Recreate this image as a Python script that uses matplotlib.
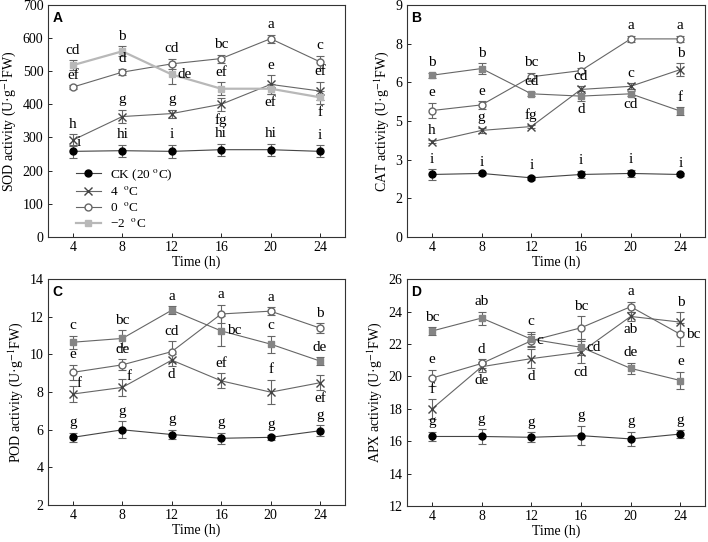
import matplotlib
matplotlib.use('Agg')
import matplotlib.pyplot as plt
from matplotlib.lines import Line2D

plt.rcParams['font.family'] = ['Liberation Serif', 'DejaVu Serif']
plt.rcParams['mathtext.fontset'] = 'stix'

# sampling times (h)
hours = [4, 8, 12, 16, 20, 24]
series_names = ['CK (20 $^{\\rm o}$C)', '4  $^{\\rm o}$C', '0  $^{\\rm o}$C', '\u22122  $^{\\rm o}$C']

# A: SOD
sod_ck = [258, 260, 258, 263, 263, 258]
sod_4 = [292, 363, 372, 400, 460, 440]
sod_0 = [452, 497, 522, 538, 598, 528]
sod_m2 = [518, 560, 490, 447, 447, 421]
sod_ck_err = [20, 18, 20, 18, 18, 18]
sod_4_err = [18, 20, 12, 20, 28, 28]
sod_0_err = [5, 10, 15, 12, 12, 18]
sod_m2_err = [15, 15, 30, 20, 15, 20]
sod_ck_lab = ['i', 'hi', 'i', 'hi', 'hi', 'i']
sod_4_lab = ['h', 'g', 'g', 'fg', 'e', 'ef']
sod_0_lab = ['ef', 'd', 'cd', 'bc', 'a', 'c']
sod_m2_lab = ['cd', 'b', 'de', 'ef', 'ef', 'f']

# B: CAT
cat_ck = [2.42, 2.46, 2.29, 2.42, 2.46, 2.42]
cat_4 = [3.69, 4.13, 4.28, 5.72, 5.84, 6.49]
cat_0 = [4.90, 5.12, 6.21, 6.45, 7.68, 7.68]
cat_m2 = [6.27, 6.53, 5.55, 5.46, 5.55, 4.88]
cat_ck_err = [0.2, 0.05, 0.08, 0.15, 0.15, 0.05]
cat_4_err = [0.05, 0.1, 0.06, 0.12, 0.12, 0.25]
cat_0_err = [0.3, 0.15, 0.15, 0.1, 0.12, 0.12]
cat_m2_err = [0.1, 0.2, 0.08, 0.2, 0.1, 0.15]
cat_ck_lab = ['i', 'i', 'i', 'i', 'i', 'i']
cat_4_lab = ['h', 'g', 'fg', 'cd', 'c', 'b']
cat_0_lab = ['e', 'e', 'bc', 'b', 'a', 'a']
cat_m2_lab = ['b', 'b', 'cd', 'd', 'cd', 'f']
cat_ticks = [0, 1.5, 3, 4.5, 6, 7.5, 9]
cat_ticklabels = ['0', '2', '3', '5', '6', '8', '9']

# C: POD
pod_ck = [5.6, 6.0, 5.75, 5.55, 5.6, 5.95]
pod_4 = [7.9, 8.25, 9.7, 8.6, 8.0, 8.5]
pod_0 = [9.05, 9.45, 10.15, 12.15, 12.3, 11.4]
pod_m2 = [10.65, 10.85, 12.35, 11.25, 10.55, 9.65]
pod_ck_err = [0.25, 0.45, 0.25, 0.3, 0.15, 0.3]
pod_4_err = [0.45, 0.45, 0.3, 0.4, 0.65, 0.4]
pod_0_err = [0.4, 0.3, 0.55, 0.5, 0.2, 0.25]
pod_m2_err = [0.35, 0.45, 0.2, 0.8, 0.45, 0.2]
pod_ck_lab = ['g', 'g', 'g', 'g', 'g', 'g']
pod_4_lab = ['f', 'f', 'd', 'ef', 'f', 'ef']
pod_0_lab = ['e', 'de', 'cd', 'a', 'a', 'b']
pod_m2_lab = ['c', 'bc', 'a', 'bc', 'c', 'de']

# D: APX
apx_ck = [16.3, 16.3, 16.25, 16.35, 16.15, 16.45]
apx_4 = [18.0, 20.6, 21.1, 21.5, 23.7, 23.35]
apx_0 = [19.9, 20.8, 22.2, 23.0, 24.3, 22.6]
apx_m2 = [22.8, 23.6, 22.3, 21.8, 20.5, 19.75]
apx_ck_err = [0.3, 0.45, 0.3, 0.6, 0.45, 0.25]
apx_4_err = [0.6, 0.3, 0.6, 0.7, 0.3, 0.6]
apx_0_err = [0.5, 0.25, 0.4, 0.7, 0.3, 0.7]
apx_m2_err = [0.25, 0.4, 0.45, 0.5, 0.35, 0.55]
apx_ck_lab = ['g', 'g', 'g', 'g', 'g', 'g']
apx_4_lab = ['f', 'de', 'd', 'cd', 'ab', 'b']
apx_0_lab = ['e', 'd', 'c', 'bc', 'a', 'bc']
apx_m2_lab = ['bc', 'ab', 'c', 'cd', 'de', 'e']

# where each letter sits: u = above, d = below, r = right, ur = up-right
place = {
    'A': [['ur', 'u', 'u', 'u', 'u', 'u'], ['u', 'u', 'u', 'd', 'u', 'u'],
          ['u', 'u', 'u', 'u', 'u', 'u'], ['u', 'u', 'r', 'u', 'd', 'd']],
    'B': [['u'] * 6, ['u'] * 6, ['u'] * 6, ['u', 'u', 'u', 'd', 'd', 'u']],
    'C': [['u'] * 6, ['ur', 'ur', 'd', 'u', 'u', 'd'],
          ['u'] * 6, ['u', 'u', 'u', 'r', 'u', 'u']],
    'D': [['u'] * 6, ['u', 'd', 'd', 'd', 'd', 'u'],
          ['u', 'u', 'r', 'u', 'u', 'r'], ['u', 'u', 'u', 'r', 'u', 'u']],
}


def get_styles(tag, m2_color):
    return [
        dict(marker='o', color='#444444', mfc='black', mec='black', ms=5, lw=0.8),
        dict(marker='x', color='#666666', mfc='#444444', mec='#444444', ms=6, lw=0.8),
        dict(marker='o', color='#666666', mfc='white', mec='#666666', ms=5, lw=0.8),
        dict(marker='s', color=m2_color if tag == 'A' else '#666666', mfc=m2_color,
             mec=m2_color, ms=5, lw=1.6 if tag == 'A' else 0.8),
    ]


def draw_panel(ax, tag, vals, errs, labs, ylabel, ylim, yticks, yticklabels, m2_color):
    styles = get_styles(tag, m2_color)
    for k in range(4):
        ax.errorbar(hours, vals[k], yerr=errs[k], ecolor='#666666', elinewidth=0.8,
                    capsize=3, capthick=0.8, **styles[k])
        for i, t in enumerate(labs[k]):
            p = place[tag][k][i]
            if p == 'u':
                xy, off, va, ha = (hours[i], vals[k][i] + errs[k][i]), (0, 2.5), 'bottom', 'center'
            elif p == 'd':
                xy, off, va, ha = (hours[i], vals[k][i] - errs[k][i]), (0, -1.5), 'top', 'center'
            elif p == 'ur':
                xy, off, va, ha = (hours[i], vals[k][i] + errs[k][i]), (3, -3), 'bottom', 'left'
            else:
                xy, off, va, ha = (hours[i], vals[k][i]), (4, 0), 'center', 'left'
            ax.annotate(t, xy, xytext=off, textcoords='offset points', ha=ha, va=va,
                        fontsize=11)
    ax.set_xlim(2, 26)
    ax.set_xticks(hours)
    ax.set_ylim(*ylim)
    ax.set_yticks(yticks)
    ax.set_yticklabels(yticklabels)
    ax.tick_params(direction='in', labelsize=10, length=3, width=0.6)
    ax.tick_params(axis='x', pad=3)
    ax.tick_params(axis='y', pad=3.5)
    for s in ax.spines.values():
        s.set_linewidth(0.8)
        s.set_color('#333333')
    ax.set_xlabel('Time (h)', fontsize=10, labelpad=1)
    ax.set_ylabel(ylabel, fontsize=10, labelpad=3)
    ax.text(0.015, 0.975, tag, transform=ax.transAxes, ha='left', va='top',
            fontsize=10, fontweight='bold', family='Liberation Sans')
    return styles


fig = plt.figure(figsize=(7.08, 5.42), dpi=100)
axA = fig.add_axes([0.068, 0.563, 0.419, 0.428])
axB = fig.add_axes([0.575, 0.563, 0.421, 0.428])
axC = fig.add_axes([0.068, 0.068, 0.419, 0.417])
axD = fig.add_axes([0.575, 0.066, 0.421, 0.419])

stA = draw_panel(axA, 'A', [sod_ck, sod_4, sod_0, sod_m2],
                 [sod_ck_err, sod_4_err, sod_0_err, sod_m2_err],
                 [sod_ck_lab, sod_4_lab, sod_0_lab, sod_m2_lab],
                 'SOD activity (U\u00b7g$^{-1}$FW)', (0, 700), range(0, 701, 100),
                 [str(v) for v in range(0, 701, 100)], '#b8b8b8')
draw_panel(axB, 'B', [cat_ck, cat_4, cat_0, cat_m2],
           [cat_ck_err, cat_4_err, cat_0_err, cat_m2_err],
           [cat_ck_lab, cat_4_lab, cat_0_lab, cat_m2_lab],
           'CAT activity (U\u00b7g$^{-1}$FW)', (0, 9), cat_ticks, cat_ticklabels, '#858585')
draw_panel(axC, 'C', [pod_ck, pod_4, pod_0, pod_m2],
           [pod_ck_err, pod_4_err, pod_0_err, pod_m2_err],
           [pod_ck_lab, pod_4_lab, pod_0_lab, pod_m2_lab],
           'POD activity (U\u00b7g$^{-1}$FW)', (2, 14), range(2, 15, 2),
           [str(v) for v in range(2, 15, 2)], '#858585')
draw_panel(axD, 'D', [apx_ck, apx_4, apx_0, apx_m2],
           [apx_ck_err, apx_4_err, apx_0_err, apx_m2_err],
           [apx_ck_lab, apx_4_lab, apx_0_lab, apx_m2_lab],
           'APX activity (U\u00b7g$^{-1}$FW)', (12, 26), range(12, 27, 2),
           [str(v) for v in range(12, 27, 2)], '#858585')

handles = [Line2D([], [], **st) for st in stA]
axA.legend(handles, series_names, loc='lower left', bbox_to_anchor=(0.07, 0.0),
           frameon=False, fontsize=9.5, handlelength=1.9, handletextpad=0.7,
           labelspacing=0.22, borderaxespad=0.1)

fig.savefig('out.png', dpi=100)
